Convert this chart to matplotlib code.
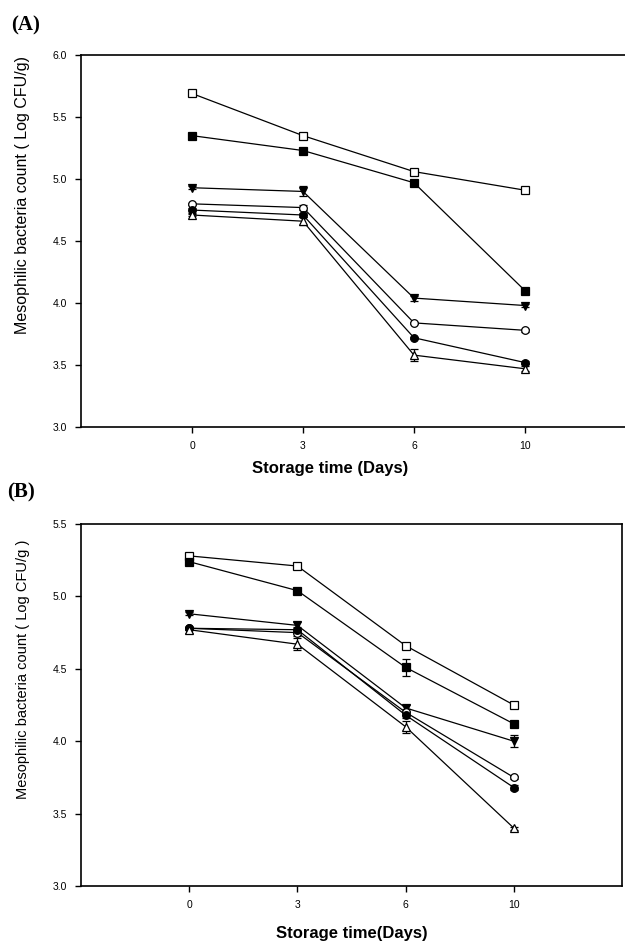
import numpy as np
import matplotlib
matplotlib.use("Agg")
import matplotlib.pyplot as plt

plt.rcParams['font.family'] = ['Liberation Sans', 'DejaVu Sans']

days = ['0', '3', '6', '10']

# panel A values (Log CFU/g)
a_open_square = [5.69, 5.35, 5.06, 4.91]
a_filled_square = [5.35, 5.23, 4.97, 4.10]
a_filled_tri = [4.93, 4.90, 4.04, 3.98]
a_open_circle = [4.80, 4.77, 3.84, 3.78]
a_filled_circle = [4.75, 4.71, 3.72, 3.52]
a_open_tri = [4.71, 4.66, 3.58, 3.47]

a_err_open_square = [0.01, 0.01, 0.01, 0.01]
a_err_filled_square = [0.01, 0.01, 0.02, 0.01]
a_err_filled_tri = [0.01, 0.04, 0.02, 0.01]
a_err_open_circle = [0.01, 0.02, 0.01, 0.01]
a_err_filled_circle = [0.02, 0.02, 0.01, 0.01]
a_err_open_tri = [0.01, 0.03, 0.05, 0.02]

# panel B values (Log CFU/g)
b_open_square = [5.28, 5.21, 4.66, 4.25]
b_filled_square = [5.24, 5.04, 4.51, 4.12]
b_filled_tri = [4.88, 4.80, 4.23, 4.00]
b_open_circle = [4.78, 4.75, 4.20, 3.75]
b_filled_circle = [4.78, 4.77, 4.18, 3.68]
b_open_tri = [4.77, 4.67, 4.10, 3.40]

b_err_open_square = [0.01, 0.01, 0.01, 0.01]
b_err_filled_square = [0.01, 0.01, 0.06, 0.01]
b_err_filled_tri = [0.01, 0.02, 0.02, 0.04]
b_err_open_circle = [0.01, 0.02, 0.02, 0.01]
b_err_filled_circle = [0.01, 0.02, 0.02, 0.02]
b_err_open_tri = [0.02, 0.04, 0.04, 0.01]

styles = [('s', 'white'), ('s', 'black'), ('v', 'black'),
          ('o', 'white'), ('o', 'black'), ('^', 'white')]


def draw_panel(ax, series, errors, ylim, yticks):
    x = np.arange(len(days))
    for (m, fc), y, e in zip(styles, series, errors):
        ax.errorbar(x, y, yerr=e, color='black', lw=0.9, marker=m,
                    markersize=5.5, markerfacecolor=fc, markeredgecolor='black',
                    markeredgewidth=0.9, capsize=3, elinewidth=0.9)
    ax.set_xlim(-1, 4)
    ax.set_ylim(*ylim)
    ax.set_xticks(x)
    ax.set_xticklabels(days)
    ax.set_yticks(yticks)
    ax.set_yticklabels(['%.1f' % t for t in yticks])
    ax.tick_params(direction='out', length=4, width=1, labelsize=7.5, pad=6)
    for s in ax.spines.values():
        s.set_linewidth(1.2)


fig = plt.figure(figsize=(6.25, 9.49), dpi=100)

ax_a = fig.add_axes([0.1296, 0.550, 0.888, 0.392])
draw_panel(ax_a,
           [a_open_square, a_filled_square, a_filled_tri, a_open_circle, a_filled_circle, a_open_tri],
           [a_err_open_square, a_err_filled_square, a_err_filled_tri, a_err_open_circle,
            a_err_filled_circle, a_err_open_tri],
           (3.0, 6.0), np.arange(3.0, 6.01, 0.5))
ax_a.set_xlabel('Storage time (Days)', fontsize=12, fontweight='bold', labelpad=7)
ax_a.xaxis.set_label_coords(0.449, -0.09)
ax_a.set_ylabel('Mesophilic bacteria count ( Log CFU/g)', fontsize=11.5)
ax_a.yaxis.set_label_coords(-0.092, 0.624)

ax_b = fig.add_axes([0.1296, 0.0664, 0.8656, 0.3814])
draw_panel(ax_b,
           [b_open_square, b_filled_square, b_filled_tri, b_open_circle, b_filled_circle, b_open_tri],
           [b_err_open_square, b_err_filled_square, b_err_filled_tri, b_err_open_circle,
            b_err_filled_circle, b_err_open_tri],
           (3.0, 5.5), np.arange(3.0, 5.51, 0.5))
ax_b.set_xlabel('Storage time(Days)', fontsize=12, fontweight='bold')
ax_b.xaxis.set_label_coords(0.5, -0.11)
ax_b.set_ylabel('Mesophilic bacteria count ( Log CFU/g )', fontsize=10.5)
ax_b.yaxis.set_label_coords(-0.094, 0.6)

fig.text(0.018, 0.984, '(A)', fontsize=15, fontweight='bold', family='Liberation Serif', va='top')
fig.text(0.012, 0.492, '(B)', fontsize=15, fontweight='bold', family='Liberation Serif', va='top')

fig.savefig('out.png', dpi=100)
